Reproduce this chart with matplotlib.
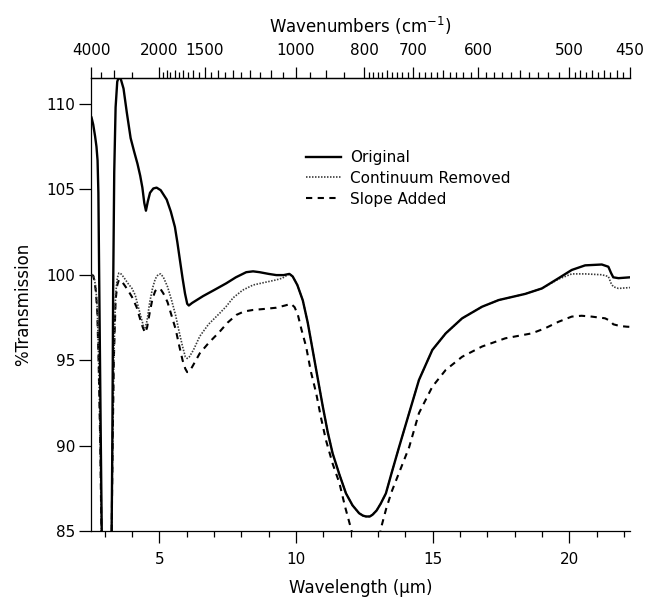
import numpy as np
import matplotlib
matplotlib.use("Agg")
import matplotlib.pyplot as plt

# ---------------- data ----------------
orig_wl = [2.52, 2.58, 2.65, 2.70, 2.74, 2.77, 2.81, 2.86, 2.90, 3.00, 3.15, 3.25, 3.28, 3.31,
           3.35, 3.40, 3.46, 3.52, 3.60, 3.69, 3.81, 3.95, 4.08, 4.20, 4.30, 4.38, 4.45, 4.51,
           4.58, 4.66, 4.78, 4.90, 5.05, 5.27, 5.42, 5.57, 5.66, 5.75, 5.85, 5.94, 6.02, 6.08,
           6.20, 6.40, 6.60, 7.00, 7.45, 7.80, 8.18, 8.43, 8.67, 9.00, 9.28, 9.55, 9.76, 9.88,
           10.05, 10.25, 10.43, 10.61, 10.80, 10.98, 11.16, 11.34, 11.59, 11.83, 12.07, 12.31,
           12.45, 12.56, 12.70, 12.80, 12.95, 13.10, 13.29, 13.50, 13.77, 14.14, 14.50, 14.99,
           15.48, 16.08, 16.81, 17.42, 18.39, 19.00, 19.61, 20.09, 20.58, 21.19, 21.43, 21.53,
           21.61, 21.80, 22.22]
orig_T = [109.2, 108.8, 108.1, 107.5, 106.7, 104.8, 98.1, 90.0, 84.0, 75.0, 75.0, 84.0, 90.0, 99.0,
          106.0, 109.8, 111.3, 111.6, 111.4, 110.9, 109.5, 108.0, 107.2, 106.5, 105.8, 105.1, 104.2, 103.75,
          104.3, 104.8, 105.05, 105.1, 104.95, 104.4, 103.7, 102.8, 101.9, 100.9, 99.8, 98.9, 98.3, 98.2,
          98.35, 98.55, 98.75, 99.1, 99.5, 99.85, 100.15, 100.2, 100.15, 100.05, 99.98, 99.98, 100.05, 99.9,
          99.4, 98.5, 97.2, 95.6, 93.9, 92.3, 90.8, 89.55, 88.3, 87.2, 86.5, 86.04,
          85.9, 85.85, 85.85, 85.95, 86.2, 86.6, 87.2, 88.4, 89.9, 91.9, 93.84, 95.6,
          96.57, 97.45, 98.13, 98.52, 98.88, 99.2, 99.8, 100.28, 100.55, 100.6, 100.47, 100.1,
          99.85, 99.8, 99.85]

cont_wl = [2.52, 2.58, 2.63, 2.68, 2.73, 2.78, 2.84, 2.89, 3.00, 3.15, 3.25, 3.29, 3.34, 3.40,
           3.46, 3.52, 3.60, 3.70, 3.85, 4.00, 4.12, 4.25, 4.35, 4.42, 4.48, 4.55, 4.65, 4.75,
           4.85, 4.95, 5.05, 5.15, 5.30, 5.45, 5.60, 5.72, 5.85, 5.95, 6.02, 6.10, 6.25, 6.48,
           6.80, 7.21, 7.45, 7.70, 8.05, 8.43, 8.85, 9.28, 9.50, 9.70, 9.76, 9.88,
           10.05, 10.25, 10.43, 10.61, 10.80, 10.98, 11.16, 11.34, 11.59, 11.83, 12.07, 12.31,
           12.45, 12.56, 12.70, 12.80, 12.95, 13.10, 13.29, 13.50, 13.77, 14.14, 14.50, 14.99,
           15.48, 16.08, 16.81, 17.42, 18.39, 19.00, 19.61, 20.09, 20.58, 21.19, 21.43, 21.53,
           21.61, 21.80, 22.22]
cont_T = [100.0, 100.0, 99.7, 99.2, 98.0, 95.0, 90.0, 84.0, 75.0, 75.0, 84.0, 90.0, 95.5, 98.8,
          99.8, 100.1, 100.05, 99.85, 99.5, 99.2, 98.8, 98.0, 97.4, 97.0, 96.9, 97.3, 98.4, 99.2,
          99.75, 100.0, 100.05, 99.85, 99.3, 98.5, 97.6, 96.7, 95.8, 95.2, 95.1, 95.2, 95.6, 96.4,
          97.1, 97.75, 98.15, 98.65, 99.1, 99.4, 99.55, 99.7, 99.8, 100.0, 100.05, 99.9,
          99.4, 98.5, 97.2, 95.6, 93.9, 92.3, 90.8, 89.55, 88.3, 87.2, 86.5, 86.04,
          85.9, 85.85, 85.85, 85.95, 86.2, 86.6, 87.2, 88.4, 89.9, 91.9, 93.84, 95.6,
          96.57, 97.45, 98.13, 98.52, 98.88, 99.2, 99.75, 100.05, 100.05, 100.0, 99.9, 99.5,
          99.3, 99.2, 99.25]

slope_wl = [2.52, 2.58, 2.63, 2.68, 2.73, 2.78, 2.84, 2.89, 3.00, 3.15, 3.25, 3.29, 3.34, 3.40,
            3.46, 3.52, 3.60, 3.70, 3.85, 4.00, 4.17, 4.30, 4.40, 4.48, 4.55, 4.65, 4.75, 4.85,
            4.95, 5.05, 5.15, 5.30, 5.45, 5.60, 5.72, 5.85, 5.95, 6.02, 6.10, 6.20, 6.48, 6.80,
            7.21, 7.50, 7.82, 8.10, 8.43, 8.85, 9.28, 9.60, 9.82, 9.95, 10.07, 10.20, 10.37,
            10.55, 10.74, 10.92, 11.10, 11.35, 11.59, 11.80, 12.01, 12.10, 13.05, 13.11, 13.30,
            13.50, 13.77, 14.14, 14.50, 14.99, 15.48, 16.08, 16.81, 17.66, 18.63, 19.12, 19.61,
            20.09, 20.45, 20.82, 21.31, 21.50, 21.61, 21.85, 22.10, 22.22]
slope_T = [100.0, 99.95, 99.6, 99.0, 97.8, 94.8, 90.0, 84.0, 75.0, 75.0, 84.0, 90.0, 95.3, 98.5,
           99.4, 99.7, 99.65, 99.45, 99.1, 98.7, 98.1, 97.4, 96.9, 96.6, 96.9, 97.8, 98.6, 99.05,
           99.2, 99.15, 98.9, 98.4, 97.6, 96.8, 95.9, 95.0, 94.5, 94.3, 94.35, 94.6, 95.4, 96.0,
           96.67, 97.2, 97.65, 97.85, 97.94, 98.0, 98.07, 98.2, 98.3, 98.1, 97.65, 96.8, 95.8,
           94.3, 93.06, 91.6, 90.3, 88.9, 87.8, 86.4, 85.16, 84.6, 84.6, 85.16, 86.3,
           87.3, 88.4, 89.9, 91.9, 93.45, 94.43, 95.2, 95.8, 96.28, 96.57, 96.87, 97.25,
           97.55, 97.6, 97.55, 97.45, 97.3, 97.1, 97.0, 96.96, 96.95]

series_labels = ["Original", "Continuum Removed", "Slope Added"]

x_major = [5, 10, 15, 20]
y_major = [85, 90, 95, 100, 105, 110]
wn_major = [4000, 2000, 1500, 1000, 800, 700, 600, 500, 450]
wn_medium = ([3000] + list(range(1900, 1500, -100)) + list(range(1400, 1000, -100)) + [900]
             + [750, 650, 550] + [490, 480, 470, 460])
wn_short = ([3500, 2500] + list(range(1950, 1000, -100)) + [950, 850]
            + [v for v in range(790, 500, -10) if v % 50 != 0]
            + [495, 485, 475, 465, 455])

# ---------------- figure ----------------
fig = plt.figure(figsize=(6.49, 6.0), dpi=100)
ax = fig.add_axes([91 / 649, 1 - 531 / 600, (630 - 91) / 649, (531 - 78.3) / 600])

ax.plot(slope_wl, slope_T, color="black", lw=1.5, linestyle=(0, (3, 2.6)), label=series_labels[2], zorder=2)
ax.plot(cont_wl, cont_T, color="#3a3a3a", lw=1.2, linestyle=(0, (0.9, 0.9)), label=series_labels[1], zorder=3)
ax.plot(orig_wl, orig_T, color="black", lw=1.7, label=series_labels[0], zorder=4)

ax.set_xlim(2.5, 10000 / 450)
ax.set_ylim(85, 111.5)

ax.spines["right"].set_visible(False)
ax.spines["top"].set_visible(False)
for s in ("left", "bottom"):
    ax.spines[s].set_linewidth(0.9)

ax.set_xticks(x_major)
ax.set_xticks([v for v in range(3, 23) if v not in x_major], minor=True)
ax.set_yticks(y_major)
ax.tick_params(axis="x", which="major", direction="out", length=8.5, width=0.9, pad=6.5, labelsize=11)
ax.tick_params(axis="x", which="minor", direction="out", length=4, width=0.9)
ax.tick_params(axis="y", which="major", direction="out", length=8.5, width=0.9, pad=3, labelsize=11)

ax.set_xlabel("Wavelength (\u00b5m)", fontsize=12, labelpad=9)
ax.set_ylabel("%Transmission", fontsize=12, labelpad=10)


def fwd(x):
    x = np.asarray(x, dtype=float)
    with np.errstate(divide="ignore", invalid="ignore"):
        return 10000.0 / x


sec = ax.secondary_xaxis("top", functions=(fwd, fwd))
sec.set_xticks(wn_major)
sec.set_xticklabels([str(v) for v in wn_major])
sec.set_xticks(wn_medium, minor=True)
sec.tick_params(axis="x", which="major", direction="out", length=8, width=0.9, pad=6.5, labelsize=11)
sec.tick_params(axis="x", which="minor", direction="out", length=5.8, width=0.9)
sec.spines["top"].set_linewidth(0.9)
sec.set_xlabel("Wavenumbers (cm$^{\\mathregular{-1}}$)", fontsize=12, labelpad=7)

sec2 = ax.secondary_xaxis("top", functions=(fwd, fwd))
sec2.set_xticks([])
sec2.set_xticks(wn_short, minor=True)
sec2.tick_params(axis="x", which="minor", direction="out", length=4, width=0.9)
sec2.spines["top"].set_linewidth(0.9)

handles, labels = ax.get_legend_handles_labels()
order = [2, 1, 0]
leg = fig.legend([handles[i] for i in order], [labels[i] for i in order],
                 loc="upper left", bbox_to_anchor=(306 / 649, 1 - 150 / 600),
                 frameon=False, fontsize=11, handlelength=2.3, handletextpad=0.6,
                 labelspacing=0.38, borderpad=0, borderaxespad=0)

fig.savefig("out.png", dpi=100)
